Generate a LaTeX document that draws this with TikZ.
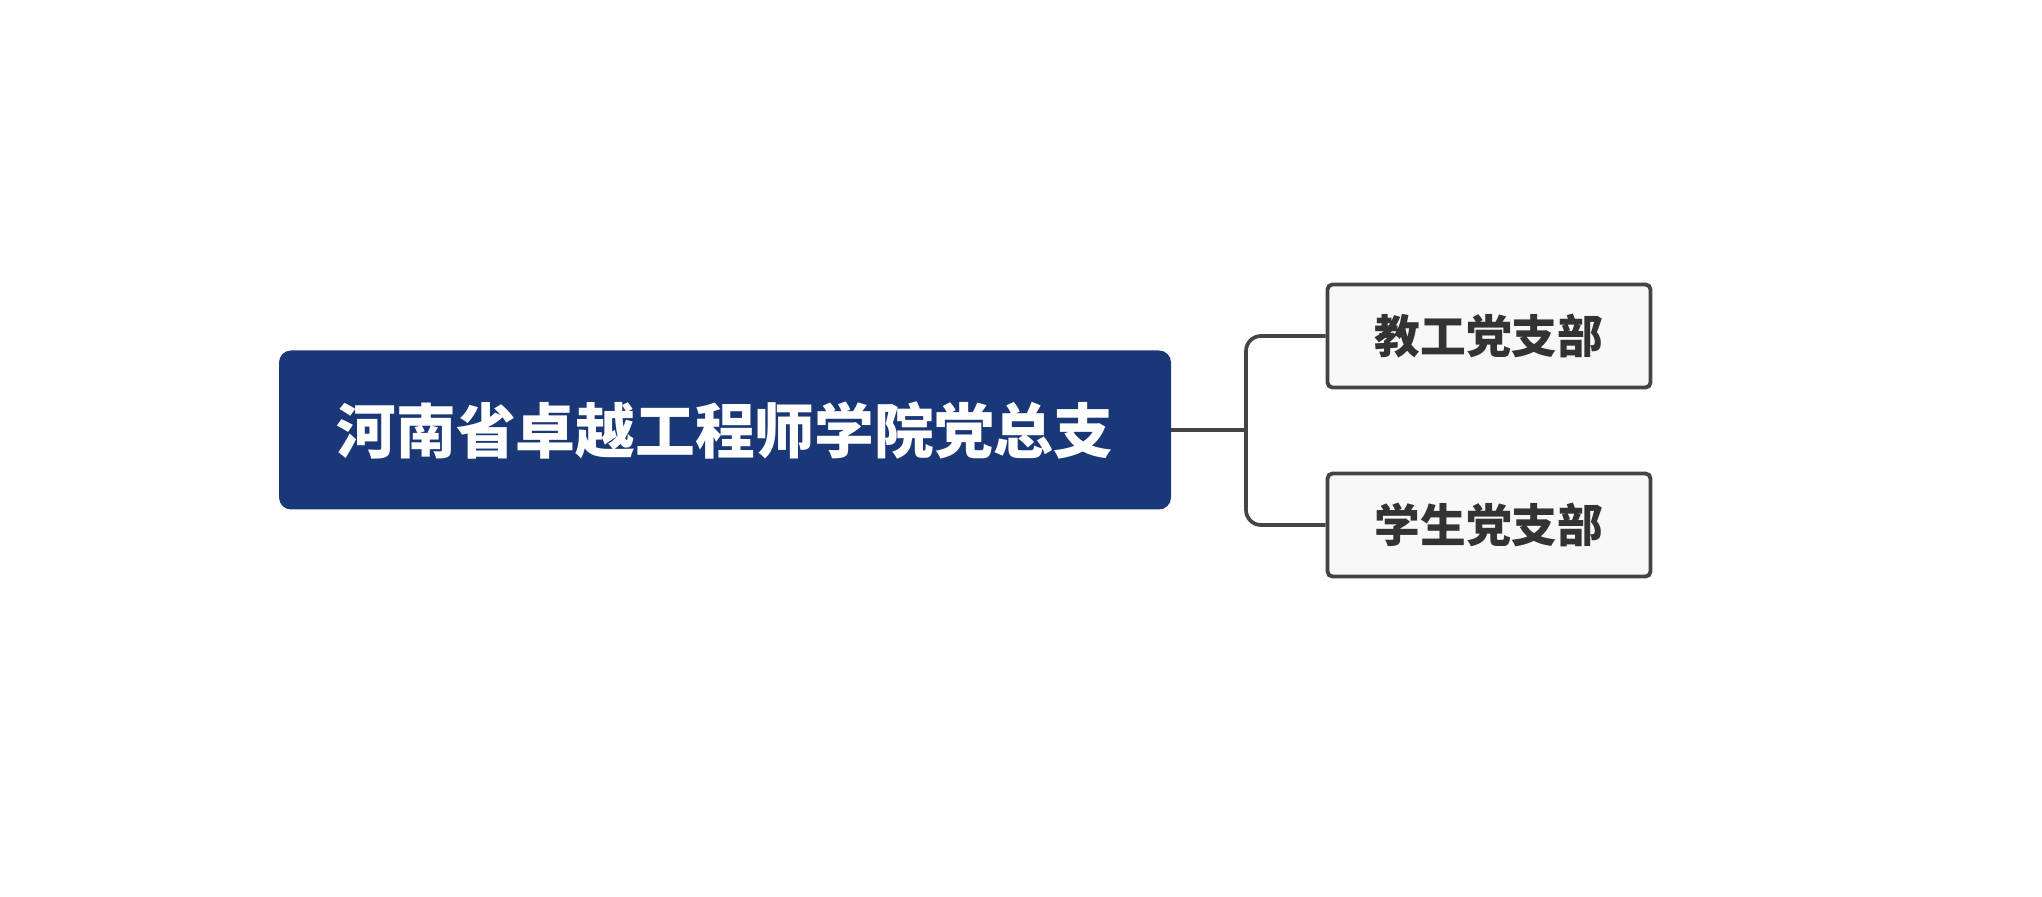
\documentclass[tikz,border=0pt]{standalone}
\usepackage{fontspec}
\newfontfamily\cjk{Noto Sans CJK SC}
\usepackage{xcolor}
\usepackage{tikz}
\usetikzlibrary{positioning,calc}

\definecolor{navy}{HTML}{1A3878}
\definecolor{linegray}{HTML}{444444}
\definecolor{boxgray}{HTML}{F8F8F8}

\begin{document}
\begin{tikzpicture}[
    rootbox/.style = {fill=navy, rounded corners=0.24cm, minimum width=17.84cm,
      minimum height=3.18cm, text=white, font=\cjk\bfseries\fontsize{34}{40}\selectfont},
    branchbox/.style = {draw=linegray, line width=2.2pt, fill=boxgray, rounded corners=0.1cm,
      minimum width=6.46cm, minimum height=2.06cm, text=black!80,
      font=\cjk\bfseries\fontsize{26}{31}\selectfont},
    link/.style = {draw=linegray, line width=2.1pt}
  ]
  \useasboundingbox (0,0) rectangle (40.84,17.92);

  % 党总支
  \node[rootbox] (root) at (14.5,9.32) {河南省卓越工程师学院党总支};

  % 支部
  \node[branchbox] (jiaogong) at (29.78,11.2) {教工党支部};
  \node[branchbox] (xuesheng) at (29.78,7.42) {学生党支部};

  % 连线
  \coordinate (j) at (24.92,9.32);
  \draw[link] (root.east) -- (j);
  \draw[link, rounded corners=0.3cm] (jiaogong.west) -| (j) |- (xuesheng.west);
\end{tikzpicture}
\end{document}
